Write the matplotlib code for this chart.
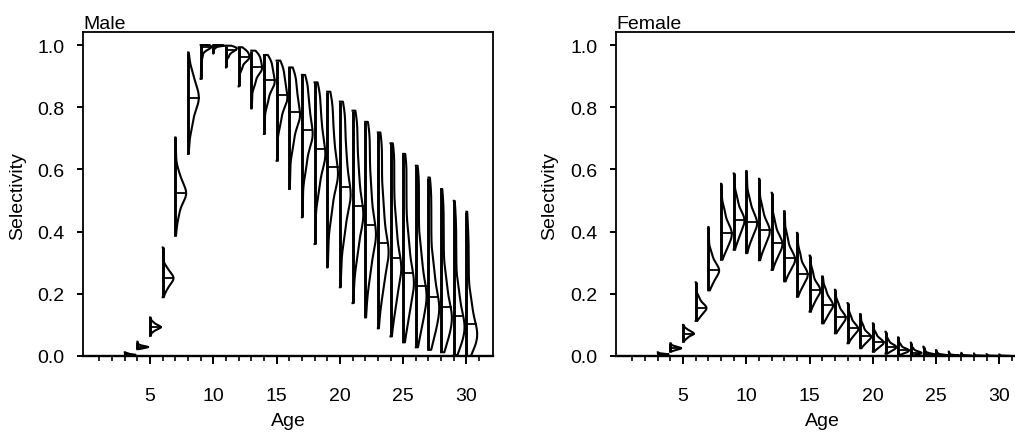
import numpy as np
import matplotlib
matplotlib.use("Agg")
import matplotlib.pyplot as plt

plt.rcParams['font.family'] = ['Liberation Sans', 'DejaVu Sans']
plt.rcParams['font.size'] = 14

# ---------------- data ----------------
ages = list(range(3, 31))
p_levels = [0.0, 0.05, 0.25, 0.5, 0.75, 0.95, 1.0]

male_min = [0.000, 0.022, 0.065, 0.189, 0.387, 0.650, 0.891, 0.973, 0.928, 0.867, 0.796, 0.714, 0.628, 0.537,
            0.446, 0.360, 0.285, 0.221, 0.170, 0.124, 0.089, 0.063, 0.044, 0.028, 0.020, 0.012, 0.003, 0.000]
male_q05 = [0.001, 0.024, 0.078, 0.210, 0.440, 0.720, 0.950, 0.988, 0.958, 0.915, 0.862, 0.800, 0.730, 0.655,
            0.580, 0.505, 0.430, 0.360, 0.295, 0.235, 0.185, 0.140, 0.105, 0.078, 0.058, 0.042, 0.028, 0.018]
male_q25 = [0.003, 0.027, 0.088, 0.235, 0.500, 0.790, 0.982, 0.995, 0.976, 0.947, 0.908, 0.860, 0.805, 0.746,
            0.682, 0.615, 0.550, 0.482, 0.418, 0.356, 0.300, 0.250, 0.205, 0.165, 0.132, 0.105, 0.080, 0.060]
male_med = [0.004, 0.029, 0.093, 0.250, 0.523, 0.829, 0.993, 0.998, 0.985, 0.960, 0.928, 0.887, 0.839, 0.786,
            0.728, 0.666, 0.607, 0.544, 0.483, 0.422, 0.365, 0.314, 0.267, 0.226, 0.189, 0.156, 0.128, 0.103]
male_q75 = [0.006, 0.031, 0.099, 0.265, 0.550, 0.865, 0.997, 0.999, 0.991, 0.974, 0.953, 0.924, 0.889, 0.850,
            0.805, 0.758, 0.712, 0.662, 0.612, 0.560, 0.505, 0.452, 0.400, 0.350, 0.305, 0.265, 0.228, 0.195]
male_q95 = [0.009, 0.036, 0.110, 0.290, 0.600, 0.920, 0.999, 0.9997, 0.996, 0.987, 0.975, 0.958, 0.937, 0.911,
            0.883, 0.856, 0.825, 0.792, 0.760, 0.723, 0.687, 0.650, 0.612, 0.568, 0.520, 0.475, 0.430, 0.388]
male_max = [0.012, 0.046, 0.124, 0.349, 0.703, 0.976, 1.000, 1.000, 0.998, 0.993, 0.982, 0.968, 0.950, 0.928,
            0.904, 0.880, 0.850, 0.818, 0.789, 0.753, 0.719, 0.684, 0.650, 0.612, 0.574, 0.537, 0.499, 0.464]

female_min = [0.000, 0.014, 0.046, 0.113, 0.211, 0.310, 0.342, 0.331, 0.308, 0.277, 0.240, 0.191, 0.143, 0.105,
              0.073, 0.041, 0.025, 0.014, 0.008, 0.004, 0.002, 0.001, 0.000, 0.000, 0.000, 0.000, 0.000, 0.000]
female_q05 = [0.001, 0.018, 0.055, 0.125, 0.230, 0.335, 0.370, 0.365, 0.340, 0.305, 0.265, 0.215, 0.165, 0.122,
              0.088, 0.057, 0.037, 0.024, 0.014, 0.008, 0.004, 0.002, 0.001, 0.0005, 0.0002, 0.0001, 0.0001, 0.0000]
female_q25 = [0.003, 0.022, 0.066, 0.143, 0.260, 0.370, 0.410, 0.405, 0.378, 0.340, 0.295, 0.245, 0.195, 0.148,
              0.110, 0.077, 0.053, 0.036, 0.023, 0.014, 0.008, 0.004, 0.002, 0.001, 0.0005, 0.0003, 0.0002, 0.0001]
female_med = [0.005, 0.025, 0.072, 0.155, 0.277, 0.396, 0.437, 0.430, 0.404, 0.363, 0.315, 0.265, 0.213, 0.165,
              0.125, 0.089, 0.063, 0.045, 0.030, 0.019, 0.011, 0.006, 0.003, 0.0015, 0.0008, 0.0004, 0.0002, 0.0001]
female_q75 = [0.006, 0.028, 0.078, 0.168, 0.298, 0.425, 0.465, 0.460, 0.433, 0.390, 0.342, 0.290, 0.235, 0.185,
              0.143, 0.105, 0.076, 0.056, 0.038, 0.025, 0.016, 0.009, 0.005, 0.0025, 0.0013, 0.0007, 0.0004, 0.0002]
female_q95 = [0.008, 0.033, 0.088, 0.195, 0.340, 0.480, 0.520, 0.515, 0.490, 0.445, 0.395, 0.340, 0.280, 0.220,
              0.175, 0.135, 0.103, 0.078, 0.056, 0.040, 0.027, 0.017, 0.010, 0.006, 0.004, 0.0025, 0.0015, 0.001]
female_max = [0.012, 0.041, 0.100, 0.237, 0.415, 0.554, 0.587, 0.595, 0.570, 0.525, 0.466, 0.396, 0.323, 0.256,
              0.213, 0.170, 0.135, 0.105, 0.078, 0.060, 0.043, 0.030, 0.019, 0.014, 0.010, 0.008, 0.006, 0.005]

x_major = [5, 10, 15, 20, 25, 30]
y_ticks = [0.0, 0.2, 0.4, 0.6, 0.8, 1.0]

# ---------------- drawing ----------------
W = 1015 / 100
H = 439 / 100
fig = plt.figure(figsize=(W, H), dpi=100)

HALF_W = 0.85


def half_violin(ax, x, qs):
    lo, hi = qs[0], qs[-1]
    R = hi - lo
    if R <= 0:
        return
    pp = np.linspace(0, 1, 801)
    sample = np.interp(pp, p_levels, qs)
    h = 0.07 * R
    y = np.linspace(lo, hi, 300)
    d = np.exp(-0.5 * ((y[:, None] - sample[None, :]) / h) ** 2).sum(axis=1)
    w = d / d.max() * HALF_W
    xs = np.concatenate([[x], x + w, [x]])
    ys = np.concatenate([[lo], y, [hi]])
    ax.plot(xs, ys, color='black', lw=1.5, solid_joinstyle='round', zorder=3)
    ax.plot([x, x], [lo, hi], color='black', lw=2.1, solid_capstyle='butt', zorder=4)
    med = qs[3]
    wm = np.interp(med, y, w)
    ax.plot([x, x + wm], [med, med], color='black', lw=1.3, zorder=4)


def make_panel(rect, title, mins, q05, q25, meds, q75, q95, maxs):
    ax = fig.add_axes(rect)
    for i, a in enumerate(ages):
        qs = [mins[i], q05[i], q25[i], meds[i], q75[i], q95[i], maxs[i]]
        half_violin(ax, a, qs)
    ax.set_xlim(-0.3, 32.1)
    ax.set_ylim(0.0, 1.042)
    ax.set_xticks(x_major)
    ax.set_xticklabels([str(v) for v in x_major])
    ax.set_xticks(list(range(1, 32)), minor=True)
    ax.set_yticks(y_ticks)
    ax.set_yticklabels(['%.1f' % v for v in y_ticks])
    ax.tick_params(axis='x', which='major', direction='out', length=6, width=1.4, pad=16)
    ax.tick_params(axis='x', which='minor', direction='out', length=3.5, width=1.2)
    ax.tick_params(axis='y', which='major', direction='out', length=4.5, width=1.4, pad=9)
    for s in ax.spines.values():
        s.set_linewidth(1.3)
    ax.spines['bottom'].set_linewidth(1.7)
    ax.set_title(title, loc='left', fontsize=14, pad=3)
    return ax


ax_m = make_panel([83 / 1015, 82 / 439, 410 / 1015, 324 / 439], 'Male',
                  male_min, male_q05, male_q25, male_med, male_q75, male_q95, male_max)
ax_f = make_panel([616 / 1015, 82 / 439, 410 / 1015, 324 / 439], 'Female',
                  female_min, female_q05, female_q25, female_med, female_q75, female_q95, female_max)

# axis labels placed as in the reference
fig.text(18 / 1015, 1 - 196 / 439, 'Selectivity', rotation=90, ha='center', va='center')
fig.text(550 / 1015, 1 - 196 / 439, 'Selectivity', rotation=90, ha='center', va='center')
fig.text(288 / 1015, 1 - 422 / 439, 'Age', ha='center', va='center')
fig.text(822 / 1015, 1 - 422 / 439, 'Age', ha='center', va='center')

fig.savefig('out.png', dpi=100)
